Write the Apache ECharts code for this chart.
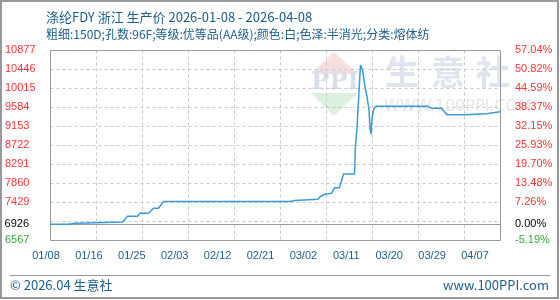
<!DOCTYPE html>
<html>
<head>
<meta charset="utf-8">
<script src="https://cdn.jsdelivr.net/npm/echarts@6/dist/echarts.min.js"></script>
<style>
html,body{margin:0;padding:0;background:#fff;}
#chart{width:560px;height:300px;}
</style>
</head>
<body>
<div id="chart"></div>
<script>
// ---- data ----
const titleText = '涤纶FDY 浙江 生产价 2026-01-08 - 2026-04-08';
const subTitleText = '粗细:150D;孔数:96F;等级:优等品(AA级);颜色:白;色泽:半消光;分类:熔体纺';
const xLabels = ['01/08','01/16','01/25','02/03','02/12','02/21','03/02','03/11','03/20','03/29','04/07'];
// day offset from 2026-01-08
const days = [0, 3.6, 4.0, 5.2, 5.5, 14.5, 15.5, 17.5, 18.0, 19.7, 20.7, 21.7, 22.7, 48, 48.4, 49, 49.2, 53.6, 54, 55, 56.3, 56.9, 57.9, 58.7, 60.9, 61.1, 61.4, 61.7, 62.1, 62.5, 63.0, 63.4, 63.8, 64.0, 64.2, 64.4, 64.8, 65.2, 75.6, 76.3, 78.3, 79.4, 83.2, 83.4, 87.3, 87.6, 90];
const prices = [6926, 6926, 6946, 6946, 6975, 6975, 7105, 7105, 7173, 7173, 7286, 7286, 7440, 7440, 7463, 7463, 7490, 7490, 7549, 7604, 7626, 7753, 7753, 8064, 8064, 8722, 9108, 9743, 10537, 10423, 10045, 9818, 9516, 9101, 8965, 9334, 9554, 9600, 9600, 9555, 9555, 9410, 9410, 9430, 9430, 9475, 9475];
const basePrice = 6926;
const baseLeftLabel = '6926';
const baseRightLabel = '0.00%';
// tick labels for the gridlines 6567 + 431*k (k = 0..10); the 2nd gridline carries no label
const leftTickLabels = ['6567',' ','7429','7860','8291','8722','9153','9584','10015','10446','10877'];
const rightTickLabels = ['-5.19%',' ','7.26%','13.48%','19.70%','25.93%','32.15%','38.37%','44.59%','50.82%','57.04%'];
const yMin = 6567, yMax = 10877, yStep = 431;
const xMin = 0, xMax = 90, xStep = 9.2;
const footerLeft = '© 2026.04 生意社';
const footerRight = 'www.100PPI.com';

const seriesData = days.map((d, i) => [d, prices[i]]);

const richLabels = {
  r: { color: '#ff3333', fontSize: 11, fontFamily: 'Liberation Sans' },
  g: { color: '#33aa33', fontSize: 11, fontFamily: 'Liberation Sans' }
};
function tickFormatter(labels) {
  return function (v) {
    const k = Math.round((v - yMin) / yStep);
    const t = labels[k] || ' ';
    return '{' + (v < basePrice ? 'g' : 'r') + '|' + t + '}';
  };
}

const chart = echarts.init(document.getElementById('chart'));
const blue = '#1e5d8c';

const staticGraphics = [
  { type: 'rect', silent: true, z: 100, shape: { x: 1, y: 1, width: 557, height: 297 }, style: { fill: 'none', stroke: '#999', lineWidth: 2 } },
  { type: 'rect', silent: true, shape: { x: 10, y: 275, width: 540, height: 1 }, style: { fill: '#999' } },
  { type: 'text', silent: true, x: 10, y: 285, style: { text: footerLeft, fill: blue, font: '13px "Noto Sans CJK SC"', textVerticalAlign: 'middle' } },
  { type: 'text', silent: true, x: 549, y: 285, style: { text: footerRight, fill: blue, font: '13px "Noto Sans CJK SC"', textAlign: 'right', textVerticalAlign: 'middle' } },
  // watermark
  { type: 'polygon', silent: true, z: -1, shape: { points: [[334, 52], [311, 74], [358, 74]] }, style: { fill: '#f8dede' } },
  { type: 'polygon', silent: true, z: -1, shape: { points: [[311, 93], [358, 93], [334, 116]] }, style: { fill: '#dcf0de' } },
  { type: 'text', silent: true, z: -1, x: 335, y: 83, style: { text: 'PPI', fill: '#d8dfeb', font: 'bold 24px "DejaVu Serif"', textAlign: 'center', textVerticalAlign: 'middle' } },
  { type: 'text', silent: true, z: -1, x: 385, y: 72, style: { text: '生', fill: '#dfe4ee', font: 'bold 34px "Noto Sans CJK SC"', textVerticalAlign: 'middle' } },
  { type: 'text', silent: true, z: -1, x: 431, y: 72, style: { text: '意', fill: '#dfe4ee', font: 'bold 34px "Noto Sans CJK SC"', textVerticalAlign: 'middle' } },
  { type: 'text', silent: true, z: -1, x: 476, y: 72, style: { text: '社', fill: '#dfe4ee', font: 'bold 34px "Noto Sans CJK SC"', textVerticalAlign: 'middle' } },
  { type: 'text', silent: true, z: -1, x: 384, y: 107, style: { text: 'WWW.100PPI.COM', fill: '#e6e6e6', font: '16px "DejaVu Sans"', textVerticalAlign: 'middle' } }
];

chart.setOption({
  animation: false,
  backgroundColor: '#fff',
  title: {
    text: titleText,
    subtext: subTitleText,
    left: 41,
    top: 6,
    itemGap: 4,
    textStyle: { color: blue, fontSize: 13, fontWeight: 'normal', fontFamily: 'Noto Sans CJK SC' },
    subtextStyle: { color: blue, fontSize: 12, fontFamily: 'Noto Sans CJK SC' }
  },
  grid: [
    { left: 50, right: 60, top: 50, bottom: 60, show: false },
    { left: 46, right: 85, top: 240, height: 1 }
  ],
  xAxis: [
    {
      type: 'value', gridIndex: 0, min: xMin, max: xMax, interval: xStep, position: 'bottom',
      axisLine: { show: false }, axisTick: { show: false }, axisLabel: { show: false }, splitLine: { show: false }
    },
    {
      type: 'category', gridIndex: 1, data: xLabels, boundaryGap: false,
      axisLine: { show: false }, axisTick: { show: false }, splitLine: { show: false },
      axisLabel: { interval: 0, margin: 9, color: blue, fontSize: 11 }
    }
  ],
  yAxis: [
    {
      type: 'value', gridIndex: 0, min: yMin, max: yMax, interval: yStep, position: 'left',
      axisLine: { show: false }, axisTick: { show: false }, splitLine: { show: false },
      axisLabel: { align: 'left', margin: 45, formatter: tickFormatter(leftTickLabels), rich: richLabels }
    },
    {
      type: 'value', gridIndex: 0, min: yMin, max: yMax, interval: yStep, position: 'right',
      axisLine: { show: false }, axisTick: { show: false }, splitLine: { show: false },
      axisLabel: { align: 'left', margin: 15, formatter: tickFormatter(rightTickLabels), rich: richLabels }
    },
    { type: 'value', gridIndex: 1, show: false }
  ],
  series: [{
    type: 'line',
    xAxisIndex: 0, yAxisIndex: 0,
    data: seriesData,
    showSymbol: false,
    z: 5,
    lineStyle: { color: '#3a9ad9', width: 1.5 },
    itemStyle: { color: '#3a9ad9' },
    markLine: {
      silent: true, symbol: 'none',
      lineStyle: { color: '#999', type: 'solid', width: 1, opacity: 0 },
      data: [
        { yAxis: basePrice, label: { show: true, position: 'start', distance: 21, formatter: baseLeftLabel, color: '#000', fontSize: 11, opacity: 1 } },
        { yAxis: basePrice, label: { show: true, position: 'end', distance: 15, formatter: baseRightLabel, color: '#000', fontSize: 11, opacity: 1 } }
      ]
    }
  }],
  graphic: staticGraphics
});

// frame, gridlines and base line, positioned through the chart's own axes
const px = v => chart.convertToPixel({ xAxisIndex: 0 }, v);
const py = v => chart.convertToPixel({ yAxisIndex: 0 }, v);
const crisp = p => Math.round(p) + 0.5;
const L = crisp(px(xMin)), R = crisp(px(xMax)), T = crisp(py(yMax)), B = crisp(py(yMin));
const lines = [];
for (let k = 1; yMin + k * yStep < yMax - 1e-6; k++) {
  const y = crisp(py(yMin + k * yStep));
  lines.push({ type: 'line', silent: true, z: 1, shape: { x1: L, y1: y, x2: R, y2: y }, style: { stroke: '#c8c8c8', lineWidth: 1, lineDash: [3, 3] } });
}
for (let k = 1; xMin + k * xStep < xMax - 1e-6; k++) {
  const x = crisp(px(xMin + k * xStep));
  lines.push({ type: 'line', silent: true, z: 1, shape: { x1: x, y1: T, x2: x, y2: B }, style: { stroke: '#c8c8c8', lineWidth: 1, lineDash: [3, 3] } });
}
const yb = crisp(py(basePrice));
lines.push({ type: 'line', silent: true, z: 2, shape: { x1: L, y1: yb, x2: R, y2: yb }, style: { stroke: '#999', lineWidth: 1 } });
lines.push({ type: 'rect', silent: true, z: 2, shape: { x: L, y: T, width: R - L, height: B - T }, style: { fill: 'none', stroke: '#999', lineWidth: 1 } });
chart.setOption({ graphic: staticGraphics.concat(lines) });
</script>
</body>
</html>
